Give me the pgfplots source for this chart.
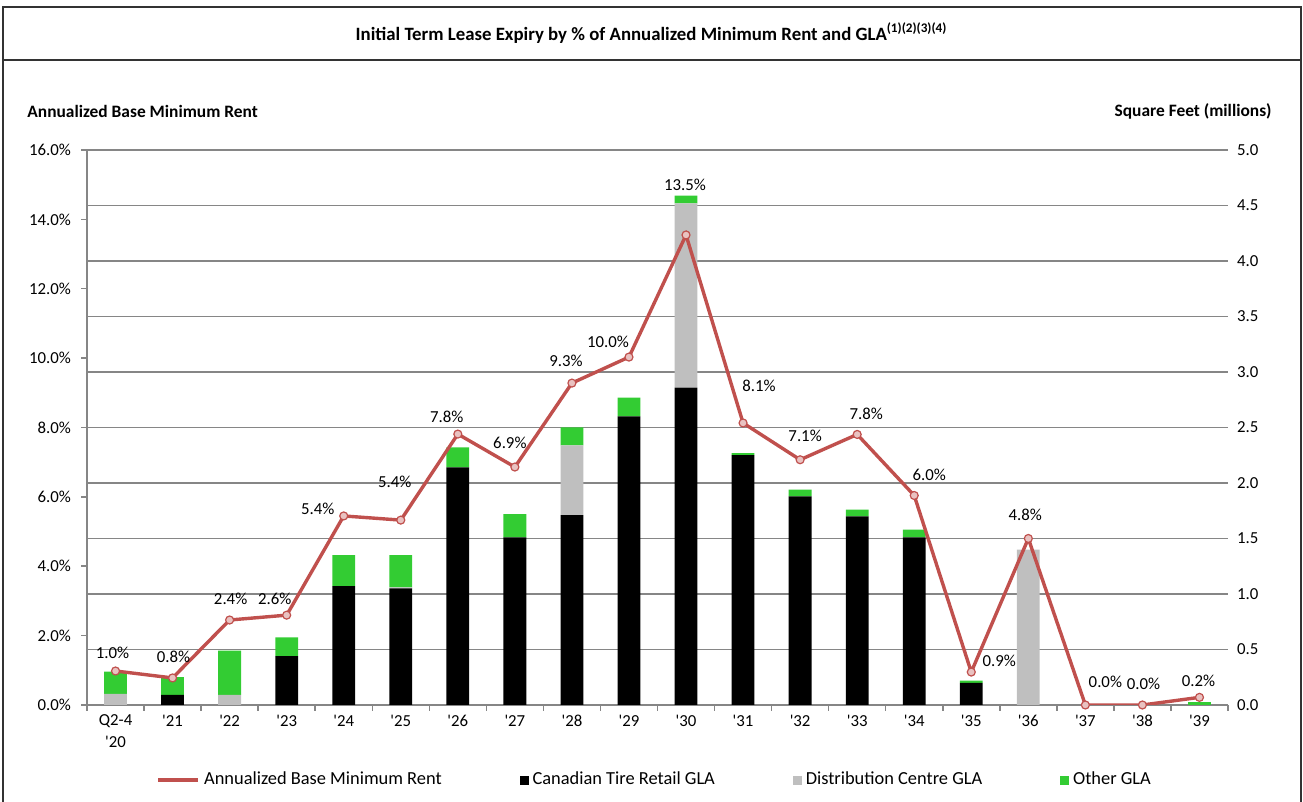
\documentclass[border=0pt]{standalone}
\usepackage{pgfplots}
\pgfplotsset{compat=1.18}
\usepackage{pgfplotstable}
\usepackage{fontspec}
\setmainfont{Carlito}
\definecolor{rentred}{RGB}{192,80,77}
\definecolor{ctgreen}{RGB}{51,204,51}
\definecolor{dcgrey}{RGB}{191,191,191}
\definecolor{gridgrey}{RGB}{134,134,134}
\newcommand\q{\textquotesingle}
\newcommand\tickfont{\fontsize{8.4}{11}\selectfont}
\newcommand\labfont{\fontsize{8.4}{10}\selectfont}
\newcommand\legfont{\fontsize{9.2}{10}\selectfont}
\newcommand\headfont{\bfseries\fontsize{8.7}{10}\selectfont}
\newcommand\titlefont{\bfseries\fontsize{9.4}{11}\selectfont}

\pgfplotstableread{
x black grey green
0  0     0.10  0.20
1  0.09  0     0.16
2  0     0.09  0.40
3  0.44  0     0.17
4  1.07  0     0.28
5  1.05  0.01  0.29
6  2.14  0     0.18
7  1.51  0     0.21
8  1.71  0.63  0.16
9  2.60  0     0.17
10 2.86  1.66  0.07
11 2.25  0     0.02
12 1.88  0     0.06
13 1.70  0     0.06
14 1.51  0     0.07
15 0.20  0     0.02
16 0     1.40  0
17 0     0     0
18 0     0     0
19 0     0     0.025
}\gladata

\pgfplotstableread{
x y lab dx dy
0  0.98  1.0  -3  18
1  0.78  0.8   1  21
2  2.45  2.4   1  21
3  2.59  2.6 -12  16
4  5.45  5.4 -26   7
5  5.33  5.4  -6  38
6  7.81  7.8 -11  17
7  6.86  6.9  -5  24
8  9.28  9.3  -6  22
9  10.03 10.0 -21 15
10 13.55 13.5 -1  50
11 8.13  8.1  16  37
12 7.07  7.1   5  24
13 7.80  7.8   9  21
14 6.04  6.0  15  21
15 0.95  0.9  28  11
16 4.80  4.8  -3  24
17 0.00  0.0  20  23
18 0.00  0.0   1  21
19 0.22  0.2  -1  17
}\rentdata

\begin{document}
\begin{tikzpicture}[x=1pt,y=1pt]
\useasboundingbox (0,0) rectangle (651.5,401);
\draw[line width=1pt, black!80] (1.5,0) -- (1.5,397.5) -- (650.5,397.5) -- (650.5,0);
\draw[line width=1pt, black!80] (1.5,371) -- (650.5,371);
\node[font=\titlefont] at (325.75,384.5) {Initial Term Lease Expiry by \% of Annualized Minimum Rent and GLA\textsuperscript{(1)(2)(3)(4)}};
\node[anchor=west, font=\headfont, inner sep=0pt] at (13.5,345.5) {Annualized Base Minimum Rent};
\node[anchor=east, font=\headfont, inner sep=0pt] at (636,345.5) {Square Feet (millions)};

% Bars on the right axis
\begin{axis}[
  at={(43.5pt,48.5pt)}, anchor=south west,
  scale only axis, width=570.5pt, height=277.5pt,
  /pgf/number format/assume math mode=true,
  ybar stacked, bar width=0.4,
  xmin=-0.5, xmax=19.5, ymin=0, ymax=5,
  axis x line*=bottom, axis y line*=right,
  y axis line style={draw=none},
  x axis line style={gridgrey, line width=0.75pt},
  xtick={0,...,19},
  xticklabels={{Q2-4\\\q20},\q21,\q22,\q23,\q24,\q25,\q26,\q27,\q28,\q29,\q30,\q31,\q32,\q33,\q34,\q35,\q36,\q37,\q38,\q39},
  xticklabel style={align=center, font=\tickfont, text=black, yshift=-1.5pt},
  major tick length=0pt,
  minor xtick={-0.5,0.5,...,19.5},
  minor tick length=3pt,
  tick align=outside,
  minor x tick style={gridgrey, line width=0.75pt},
  ytick={0,0.5,...,5},
  yticklabel={\pgfmathprintnumber[fixed,fixed zerofill,precision=1]{\tick}},
  yticklabel style={font=\tickfont, text=black, xshift=1pt},
  ytick style={draw=none},
  ymajorgrids, grid style={gridgrey, line width=0.75pt},
]
\addplot[fill=black, draw=none] table[x=x, y=black]{\gladata};
\addplot[fill=dcgrey, draw=none] table[x=x, y=grey]{\gladata};
\addplot[fill=ctgreen, draw=none] table[x=x, y=green]{\gladata};
\end{axis}

% Line on the left axis
\begin{axis}[
  at={(43.5pt,48.5pt)}, anchor=south west,
  scale only axis, width=570.5pt, height=277.5pt,
  /pgf/number format/assume math mode=true,
  xmin=-0.5, xmax=19.5, ymin=0, ymax=16,
  axis y line*=left, axis x line=none,
  ytick={0,2,...,16},
  yticklabel={\pgfmathprintnumber[fixed,fixed zerofill,precision=1]{\tick}\%},
  yticklabel style={font=\tickfont, text=black, xshift=-1.5pt},
  y axis line style={gridgrey, line width=0.75pt},
  ytick style={gridgrey, line width=0.75pt},
  tick align=outside, major tick length=3pt,
  legend columns=4,
  legend style={at={(axis description cs:0.4985,-0.135)}, anchor=center, draw=none, fill=none,
    font=\legfont, /tikz/every even column/.append style={column sep=37pt}},
]
\addlegendimage{legend image code/.code={\draw[rentred, line width=1.7pt] (0pt,0pt) -- (20pt,0pt);}}
\addlegendentry{Annualized Base Minimum Rent}
\addlegendimage{legend image code/.code={\fill[black] (0pt,-2pt) rectangle (4pt,2pt);}}
\addlegendentry{Canadian Tire Retail GLA}
\addlegendimage{legend image code/.code={\fill[dcgrey] (0pt,-2pt) rectangle (4pt,2pt);}}
\addlegendentry{Distribution Centre GLA}
\addlegendimage{legend image code/.code={\fill[ctgreen] (0pt,-2pt) rectangle (4pt,2pt);}}
\addlegendentry{Other GLA}
\addplot[forget plot, rentred, line width=1.7pt, mark=*, mark size=2pt,
  mark options={fill=rentred!35!white, draw=rentred, line width=0.6pt},
  point meta=explicit symbolic,
  visualization depends on={\thisrow{dx} \as \dx},
  visualization depends on={\thisrow{dy} \as \dy},
  nodes near coords={\pgfplotspointmeta\%},
  every node near coord/.append style={anchor=center, text=black, font=\labfont,
    xshift=\dx*0.5pt, yshift=\dy*0.5pt}]
  table[x=x, y=y, meta=lab]{\rentdata};
\end{axis}
\end{tikzpicture}
\end{document}
